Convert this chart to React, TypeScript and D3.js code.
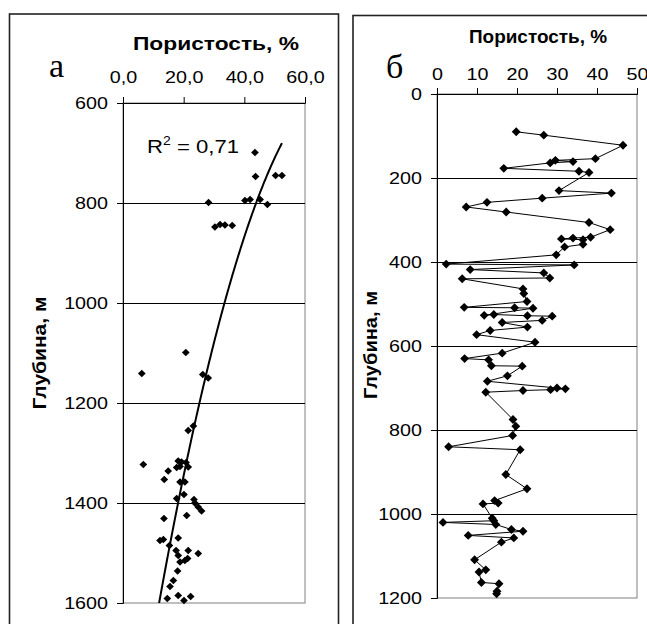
import React, { useEffect, useRef } from 'react';
import * as d3 from 'd3';

// panel "а": porosity (%) vs depth (m), scatter + polynomial trend
const depthA = [
  699, 747, 745, 745, 799, 795, 793, 793, 803, 848, 843, 844, 845,
  1099, 1141, 1143, 1150, 1246, 1255,
  1323, 1316, 1318, 1319, 1329, 1328, 1327, 1336, 1353, 1358, 1358,
  1383, 1391, 1393, 1400, 1408, 1416, 1431, 1425,
  1475, 1473, 1470, 1485, 1495, 1495, 1501, 1505, 1518, 1515, 1511,
  1536, 1555, 1567, 1591, 1585, 1595, 1587,
];
const porosityA = [
  43.5, 43.7, 50.3, 52.4, 28.2, 40.2, 41.9, 45.2, 47.6, 30.3, 32.0, 33.6, 36.0,
  20.7, 6.2, 26.3, 28.1, 23.2, 21.5,
  6.7, 18.2, 19.3, 20.8, 17.7, 21.5, 18.8, 14.9, 13.6, 18.8, 20.4,
  20.1, 17.7, 23.4, 23.7, 24.8, 25.9, 13.5, 21.0,
  12.2, 13.3, 18.2, 15.3, 17.5, 21.5, 24.8, 18.2, 18.8, 20.4, 21.3,
  18.0, 16.6, 15.5, 14.6, 18.2, 20.1, 22.3,
];
// depth = a*p^2 + b*p + c
const trendA = [0.2706, -40.11, 2039];
const r2Label = '0,71';

// panel "б": connected points in drawing order
const depthB = [
  90, 98, 122, 154, 158, 161, 164, 177, 184, 187, 230, 236, 248, 258, 269, 281,
  306, 323, 341, 343, 345, 347, 358, 364, 383, 405, 407, 418, 426, 438, 440,
  464, 475, 494, 508, 509, 510, 527, 525, 528, 529, 539, 544, 555, 563, 573,
  591, 617, 630, 633, 647, 648, 671, 684, 700, 702, 704, 706, 710,
  775, 791, 813, 840, 847, 906, 940, 968, 974, 976,
  1010, 1016, 1020, 1025, 1037, 1041, 1051, 1057, 1067,
  1109, 1133, 1138, 1163, 1166, 1184, 1190,
];
const porosityB = [
  19.8, 26.7, 46.5, 39.6, 29.6, 34.0, 28.3, 16.7, 35.5, 38.0, 30.5, 43.6, 26.3, 12.5, 7.3, 17.3,
  38.0, 43.3, 38.4, 34.0, 31.1, 36.5, 36.5, 31.9, 29.8, 2.3, 34.3, 8.3, 26.7, 28.2, 6.3,
  21.5, 21.7, 22.5, 6.8, 19.4, 24.0, 11.8, 14.2, 22.6, 28.8, 26.3, 16.3, 22.6, 13.3, 9.9,
  24.5, 16.3, 6.9, 12.9, 13.6, 21.3, 17.6, 12.6, 30.0, 32.1, 28.4, 21.5, 12.2,
  19.0, 19.7, 18.9, 2.9, 20.8, 17.2, 22.5, 14.4, 15.3, 11.5,
  13.8, 14.2, 1.5, 14.7, 18.6, 21.5, 7.8, 19.2, 16.1,
  9.4, 12.2, 10.5, 11.1, 15.5, 15.0, 14.9,
];

const ticksXA = [0, 20, 40, 60];
const ticksYA = [600, 800, 1000, 1200, 1400, 1600];
const ticksXB = [0, 10, 20, 30, 40, 50];
const ticksYB = [0, 200, 400, 600, 800, 1000, 1200];

const titleX = 'Пористость, %';
const titleY = 'Глубина, м';

const FONT = 'Arial, "Liberation Sans", sans-serif';
const SERIF = '"Liberation Serif", "Times New Roman", serif';
const W = 647;
const H = 624;
const STRETCH = 1.16; // the scanned labels are wider than the font

const ru = d3.formatLocale({ decimal: ',', thousands: ' ', grouping: [3], currency: ['', ''] });

function drawPanel(svg, cfg) {
  const { x, y, xTicks, yTicks, xFmt, xPad, yPad, id } = cfg;
  const [x0, x1] = x.range();
  const [y0, y1] = y.range();
  const g = svg.append('g');

  g.append('rect')
    .attr('x', x0).attr('y', y0)
    .attr('width', x1 - x0).attr('height', y1 - y0)
    .attr('fill', 'none').attr('stroke', '#808080').attr('stroke-width', 1);

  g.selectAll('.grid')
    .data(yTicks.slice(1, -1))
    .enter().append('line')
    .attr('x1', x0).attr('x2', x1)
    .attr('y1', (d) => Math.round(y(d)) + 0.5).attr('y2', (d) => Math.round(y(d)) + 0.5)
    .attr('stroke', '#000').attr('stroke-width', 1);

  const xAxis = g.append('g')
    .attr('transform', `translate(0,${y0})`)
    .call(d3.axisTop(x).tickValues(xTicks).tickFormat(xFmt).tickSize(6).tickPadding(xPad));
  const yAxis = g.append('g')
    .attr('transform', `translate(${x0},0)`)
    .call(d3.axisLeft(y).tickValues(yTicks).tickFormat(d3.format('d')).tickSize(6).tickPadding(yPad));

  [xAxis, yAxis].forEach((a) => {
    a.attr('font-family', FONT).attr('font-size', 17);
    a.selectAll('path, line').attr('stroke', '#000').attr('stroke-width', 1);
    a.selectAll('text').attr('fill', '#000');
  });
  // widen tick labels around their anchor point
  yAxis.selectAll('text').each(function () {
    const t = d3.select(this);
    const tx = +t.attr('x');
    t.attr('x', 0).attr('transform', `translate(${tx},0) scale(${STRETCH},1)`);
  });
  xAxis.selectAll('text').attr('transform', `scale(${STRETCH},1)`);

  svg.append('clipPath').attr('id', id)
    .append('rect').attr('x', x0).attr('y', y0).attr('width', x1 - x0).attr('height', y1 - y0);
  return g;
}

export default function App() {
  const ref = useRef(null);

  useEffect(() => {
    document.body.style.margin = '0';
    const svg = d3.select(ref.current);
    svg.selectAll('*').remove();

    // frames
    svg.append('rect').attr('x', 9.5).attr('y', 14).attr('width', 329).attr('height', H)
      .attr('fill', 'none').attr('stroke', '#222').attr('stroke-width', 1.6);
    svg.append('rect').attr('x', 353).attr('y', 15.5).attr('width', 330).attr('height', H)
      .attr('fill', 'none').attr('stroke', '#222').attr('stroke-width', 1.6);

    const diamondA = d3.symbol(d3.symbolDiamond2, 38)();
    const diamondB = d3.symbol(d3.symbolDiamond2, 50)();

    // ---- panel а
    const xA = d3.scaleLinear().domain([0, 60]).range([123, 305]);
    const yA = d3.scaleLinear().domain([600, 1600]).range([103, 603]);
    const gA = drawPanel(svg, {
      x: xA, y: yA, xTicks: ticksXA, yTicks: ticksYA,
      xFmt: ru.format('.1f'), xPad: 14, yPad: 9, id: 'clipA',
    });

    const pA = d3.extent(porosityA);
    const trendPts = d3.range(pA[0], pA[1] + 0.01, 0.2).map((p) => [
      p, trendA[0] * p * p + trendA[1] * p + trendA[2],
    ]);
    gA.append('path')
      .attr('clip-path', 'url(#clipA)')
      .attr('d', d3.line().x((d) => xA(d[0])).y((d) => yA(d[1]))(trendPts))
      .attr('fill', 'none').attr('stroke', '#000').attr('stroke-width', 2);

    gA.selectAll('.pt')
      .data(depthA.map((d, i) => [porosityA[i], d]))
      .enter().append('path')
      .attr('d', diamondA)
      .attr('transform', (d) => `translate(${xA(d[0])},${yA(d[1])})`)
      .attr('fill', '#000');

    const r2 = gA.append('text')
      .attr('x', 147).attr('y', 153)
      .attr('font-family', FONT).attr('font-size', 19).attr('fill', '#000')
      .attr('textLength', 92).attr('lengthAdjust', 'spacingAndGlyphs');
    r2.append('tspan').text('R');
    r2.append('tspan').attr('font-size', 12).attr('dy', -8).text('2');
    r2.append('tspan').attr('dy', 8).text(` = ${r2Label}`);

    // ---- panel б
    const xB = d3.scaleLinear().domain([0, 50]).range([437, 637]);
    const yB = d3.scaleLinear().domain([0, 1200]).range([94, 598]);
    const gB = drawPanel(svg, {
      x: xB, y: yB, xTicks: ticksXB, yTicks: ticksYB,
      xFmt: d3.format('d'), xPad: 8, yPad: 9, id: 'clipB',
    });

    const ptsB = depthB.map((d, i) => [porosityB[i], d]);
    gB.append('path')
      .attr('d', d3.line().x((d) => xB(d[0])).y((d) => yB(d[1]))(ptsB))
      .attr('fill', 'none').attr('stroke', '#000').attr('stroke-width', 1);
    gB.selectAll('.pt')
      .data(ptsB)
      .enter().append('path')
      .attr('d', diamondB)
      .attr('transform', (d) => `translate(${xB(d[0])},${yB(d[1])})`)
      .attr('fill', '#000');

    // titles and panel letters
    const bold = (t, x, y, len, rot) => svg.append('text')
      .attr('transform', `translate(${x},${y})${rot ? ' rotate(-90)' : ''}`)
      .attr('text-anchor', 'middle')
      .attr('font-family', FONT).attr('font-size', 19).attr('font-weight', 'bold')
      .attr('textLength', len).attr('lengthAdjust', 'spacingAndGlyphs')
      .attr('fill', '#000')
      .text(t);
    bold(titleX, 216, 50, 166, false);
    bold(titleX, 538, 43, 138, false);
    bold(titleY, 46, 353, 113, true);
    bold(titleY, 377, 345, 108, true);

    svg.append('text').attr('x', 49).attr('y', 77)
      .attr('font-family', SERIF).attr('font-size', 34)
      .attr('fill', '#000').text('а');
    svg.append('text').attr('x', 386).attr('y', 78)
      .attr('font-family', SERIF).attr('font-size', 34)
      .attr('fill', '#000').text('б');
  }, []);

  return (
    <svg ref={ref} width={W} height={H} style={{ display: 'block', background: '#fff' }} />
  );
}
